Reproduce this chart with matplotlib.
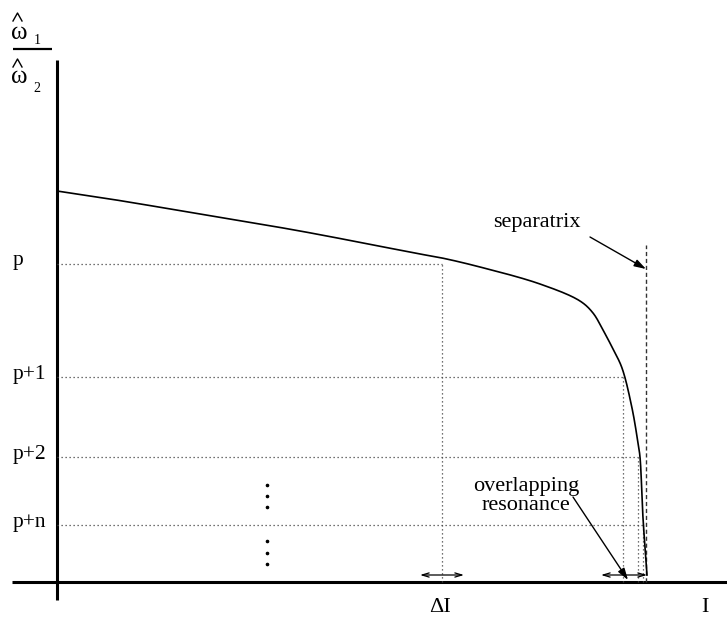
import numpy as np
import matplotlib
matplotlib.use("Agg")
import matplotlib.pyplot as plt

plt.rcParams['font.family'] = ['Liberation Serif', 'DejaVu Serif']

# ---- data (diagram units: origin at axis crossing, y up) ----
curve_I = [0, 53, 143, 243, 363, 385, 423, 483, 523, 536, 546, 556, 565, 575, 581, 583, 586, 590]
curve_w = [391, 383, 368, 351, 328, 324, 315, 298, 281, 269, 252, 233, 214, 174, 139, 125, 64, 7]

level_labels = ["p", "p+1", "p+2", "p+n"]
level_values = [318, 205, 125, 57]
level_I = [385, 566, 581, 586]

separatrix_I = 589
separatrix_top = 337

dots_I = 210
dots_w = [97, 86, 75, 41, 29, 18]


def centripetal_cr(x, y, n=30, alpha=0.5):
    P = np.column_stack([np.asarray(x, float), np.asarray(y, float)])
    P = np.vstack([2 * P[0] - P[1], P, 2 * P[-1] - P[-2]])
    out = []
    for i in range(1, len(P) - 2):
        p0, p1, p2, p3 = P[i - 1], P[i], P[i + 1], P[i + 2]
        t0 = 0.0
        t1 = t0 + np.linalg.norm(p1 - p0) ** alpha
        t2 = t1 + np.linalg.norm(p2 - p1) ** alpha
        t3 = t2 + np.linalg.norm(p3 - p2) ** alpha
        t = np.linspace(t1, t2, n, endpoint=False)[:, None]
        a1 = (t1 - t) / (t1 - t0) * p0 + (t - t0) / (t1 - t0) * p1
        a2 = (t2 - t) / (t2 - t1) * p1 + (t - t1) / (t2 - t1) * p2
        a3 = (t3 - t) / (t3 - t2) * p2 + (t - t2) / (t3 - t2) * p3
        b1 = (t2 - t) / (t2 - t0) * a1 + (t - t0) / (t2 - t0) * a2
        b2 = (t3 - t) / (t3 - t1) * a2 + (t - t1) / (t3 - t1) * a3
        c = (t2 - t) / (t2 - t1) * b1 + (t - t1) / (t2 - t1) * b2
        out.append(c)
    out.append(P[-2][None, :])
    out = np.vstack(out)
    return out[:, 0], out[:, 1]


fig = plt.figure(figsize=(7.27, 6.34), dpi=100)
ax = fig.add_axes([0, 0, 1, 1])
ax.set_xlim(-57, 670)
ax.set_ylim(-52, 582)
ax.axis('off')

# axes
ax.plot([0, 0], [-18, 522], color='black', lw=2.2, solid_capstyle='butt')
ax.plot([-45, 670], [0, 0], color='black', lw=2.2, solid_capstyle='butt')

# dotted guide lines
dot = (0, (1, 2.2))
for val, xi in zip(level_values, level_I):
    ax.plot([0, xi], [val, val], color='#444444', lw=0.9, linestyle=dot)
    ax.plot([xi, xi], [0, val], color='#444444', lw=0.9, linestyle=dot)

# separatrix dashed
ax.plot([separatrix_I, separatrix_I], [0, separatrix_top], color='#333333', lw=1.0,
        linestyle=(0, (3, 2)))

# curve
cx, cy = centripetal_cr(curve_I, curve_w)
ax.plot(cx, cy, color='black', lw=1.2)

# labels for levels
for lab, val in zip(level_labels, level_values):
    ax.text(-44, val + 3, lab, fontsize=15.5, ha='left', va='center')

# ellipsis dots
ax.plot([dots_I] * len(dots_w), dots_w, linestyle='none', marker='o', markersize=1.6,
        color='black')

# double arrows
dbl = dict(arrowstyle='<->,head_length=0.5,head_width=0.15', lw=0.9, color='black',
           shrinkA=0, shrinkB=0)
ax.annotate('', xy=(407, 7), xytext=(363, 7), arrowprops=dbl)
ax.annotate('', xy=(590, 7), xytext=(544, 7), arrowprops=dbl)

# pointer arrows
ptr = dict(arrowstyle='-|>,head_length=0.7,head_width=0.22', lw=1.0, color='black',
           shrinkA=0, shrinkB=0)
ax.annotate('', xy=(589, 313), xytext=(533, 345), arrowprops=ptr)
ax.annotate('', xy=(571, 2), xytext=(516, 85), arrowprops=ptr)

ax.text(436, 359, "separatrix", fontsize=16, ha='left', va='center')
ax.text(469, 86, "overlapping\nresonance", fontsize=16, ha='center', va='center',
        multialignment='center', linespacing=0.95)

ax.text(383, -26, "\u0394I", fontsize=16, ha='center', va='center')
ax.text(648, -26, "I", fontsize=16, ha='center', va='center')

# y label: omega_hat_1 / omega_hat_2
hat_x = [-44, -39.5, -35]
ax.text(-38, 549, "\u03c9", fontsize=18, ha='center', va='center')
ax.plot(hat_x, [561, 569, 561], color='black', lw=1.0)
ax.text(-20, 542, "1", fontsize=10, ha='center', va='center')
ax.plot([-44, -5], [533, 533], color='black', lw=1.6, solid_capstyle='butt')
ax.text(-38, 505, "\u03c9", fontsize=18, ha='center', va='center')
ax.plot(hat_x, [515, 523, 515], color='black', lw=1.0)
ax.text(-20, 494, "2", fontsize=10, ha='center', va='center')

fig.savefig("out.png", dpi=100)
